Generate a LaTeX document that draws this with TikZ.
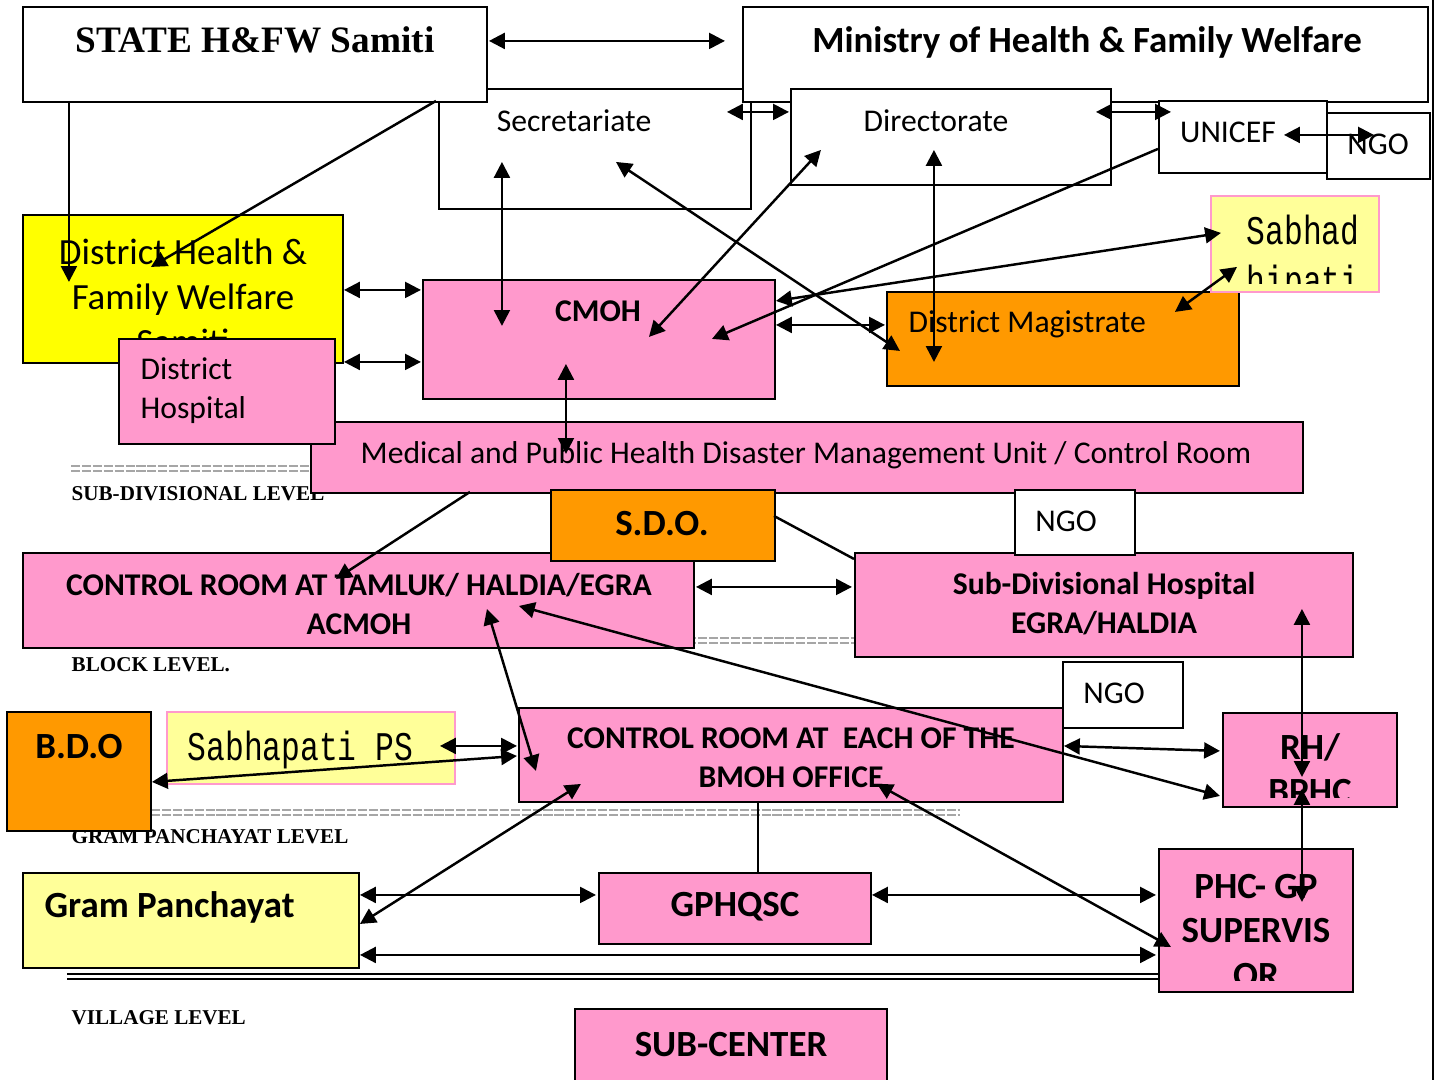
\documentclass[tikz,border=0pt]{standalone}
\usepackage{fontspec}
\setmainfont{Carlito}
\newfontfamily\timesfont{Liberation Serif}
\newfontfamily\simfont{Liberation Mono}
\usetikzlibrary{fit,arrows.meta}

\definecolor{dmpink}{HTML}{FF99CC}
\definecolor{dmyellow}{HTML}{FFFF00}
\definecolor{dmorange}{HTML}{FF9900}
\definecolor{dmcream}{HTML}{FFFF99}

\begin{document}
\begin{tikzpicture}[x=0.01cm, y=-0.01cm, >={Triangle[length=4.5pt,width=4.5pt]},
  box/.style={draw, line width=0.6pt, inner sep=0pt},
  wbox/.style={box, fill=white},
  pbox/.style={box, fill=dmpink},
  obox/.style={box, fill=dmorange},
  cbox/.style={box, fill=dmcream},
  txt/.style={inner sep=0pt, align=center, font=\fontsize{9}{11.1}\selectfont},
  btxt/.style={txt, font=\fontsize{9}{11.1}\selectfont\bfseries},
  bigtxt/.style={txt, font=\fontsize{10.5}{12.7}\selectfont\bfseries},
  simtxt/.style={inner sep=0pt, anchor=base west, font=\simfont\fontsize{8.9}{11}\selectfont},
  lvl/.style={inner sep=0pt, anchor=west, font=\timesfont\bfseries\fontsize{6}{7}\selectfont},
  sep/.style={gray!70, line width=0.4pt, dash pattern=on 2.6pt off 0.5pt},
  link/.style={line width=0.7pt}]

\useasboundingbox (0,0) rectangle (1437,1080);
\clip (0,0) rectangle (1437,1080);

% level separators and labels
\draw[sep] (71,466) -- (311,466) (71,471) -- (311,471);
\node[lvl] (lvlsub) at (71,494) {SUB-DIVISIONAL LEVEL};
\draw[sep] (600,638) -- (900,638) (600,643) -- (900,643);
\node[lvl] (lvlblock) at (71,665) {BLOCK LEVEL.};
\draw[sep] (151,810) -- (960,810) (151,815) -- (960,815);
\node[lvl] (lvlgp) at (71,837) {GRAM PANCHAYAT LEVEL};
\draw[line width=0.6pt] (67,974) -- (1159,974) (67,979) -- (1159,979);
\node[lvl] (lvlvil) at (71,1018) {VILLAGE LEVEL};

% state level
\node[wbox, fit={(439,89) (751,209)}] (secr) {};
\node[txt] (secrT) at (574,121) {Secretariate};
\node[wbox, fit={(23,7) (487,102)}] (state) {};
\node[inner sep=0pt, font=\timesfont\bfseries\fontsize{10.6}{12}\selectfont] (stateT) at (255,40) {STATE H\&FW Samiti};
\node[wbox, fit={(743,7) (1428,102)}] (ministry) {};
\node[bigtxt] (ministryT) at (1087,42) {Ministry of Health \& Family Welfare};
\node[wbox, fit={(791,89) (1111,185)}] (dir) {};
\node[txt] (dirT) at (936,121) {Directorate};
\node[wbox, fit={(1159,101) (1327,173)}] (unicef) {};
\node[txt] (unicefT) at (1228,132) {UNICEF};
\node[wbox, fit={(1327,113) (1430,179)}] (ngoA) {};
\node[txt] (ngoAT) at (1378,144) {NGO};

% district level
\node[box, fill=dmyellow, fit={(23,215) (343,363)}] (dhfw) {};
\node[txt, font=\fontsize{10.5}{12.8}\selectfont] (dhfwT) at (183,297) {District Health \&\\Family Welfare\\Samiti};
\node[pbox, fit={(311,422) (1303,493)}] (medu) {};
\node[txt] (meduT) at (806,455) {Medical and Public Health Disaster Management Unit / Control Room};
\node[pbox, fit={(119,339) (335,444)}] (dhosp) {};
\node[txt, align=left, anchor=west] (dhospT) at (140,391) {District\\Hospital};
\node[pbox, fit={(423,280) (775,399)}] (cmoh) {};
\node[btxt] (cmohT) at (598,311) {CMOH};
\node[obox, fit={(887,292) (1239,386)}] (dm) {};
\node[txt, anchor=west] (dmT) at (908,324) {District Magistrate};
\node[cbox, draw=dmpink, fit={(1211,196) (1379,292)}] (sabd) {};
\begin{scope}
\clip (1213,198) rectangle (1377,284);
\node[simtxt] (sabdT) at (1246,245) {\scalebox{1}[1.3]{Sabhad}};
\node[simtxt] (sabdT2) at (1246,295) {\scalebox{1}[1.3]{hipati}};
\end{scope}

% sub-divisional level
\node[pbox, fit={(23,553) (694,648)}] (crT) {};
\node[btxt] (crTT) at (359,604) {CONTROL ROOM AT TAMLUK/ HALDIA/EGRA\\ACMOH};
\node[obox, fit={(551,490) (775,561)}] (sdo) {};
\node[bigtxt] (sdoT) at (662,524) {S.D.O.};
\node[pbox, fit={(855,553) (1353,657)}] (sdh) {};
\node[btxt] (sdhT) at (1104,604) {Sub-Divisional Hospital\\EGRA/HALDIA};
\node[wbox, fit={(1015,490) (1135,555)}] (ngoB) {};
\node[txt] (ngoBT) at (1066,521) {NGO};

% block level
\node[obox, fit={(7,712) (151,831)}] (bdo) {};
\node[bigtxt] (bdoT) at (79,747) {B.D.O};
\node[cbox, draw=dmpink, fit={(167,712) (455,784)}] (sabp) {};
\node[simtxt] (sabpT) at (187,760) {\scalebox{1}[1.3]{Sabhapati PS}};
\node[pbox, fit={(519,708) (1063,802)}] (crB) {};
\node[btxt] (crBT) at (791,758) {CONTROL ROOM AT\ \ EACH OF THE\\BMOH OFFICE};
\node[wbox, fit={(1063,662) (1183,728)}] (ngoC) {};
\node[txt] (ngoCT) at (1114,693) {NGO};
\node[pbox, fit={(1223,713) (1397,807)}] (rh) {};
\begin{scope}
\clip (1225,715) rectangle (1395,797);
\node[bigtxt, font=\fontsize{10.5}{12.5}\selectfont\bfseries] (rhT) at (1310,769) {RH/\\BPHC};
\end{scope}

% gram panchayat level
\node[box, fill=dmcream, fit={(23,873) (359,968)}] (gp) {};
\node[bigtxt, anchor=west] (gpT) at (44,907) {Gram Panchayat};
\node[pbox, fit={(599,873) (871,944)}] (gphq) {};
\node[bigtxt] (gphqT) at (735,907) {GPHQSC};
\node[pbox, fit={(1159,849) (1353,992)}] (phc) {};
\begin{scope}
\clip (1161,851) rectangle (1351,980);
\node[bigtxt, font=\fontsize{10.5}{12.7}\selectfont\bfseries] (phcT) at (1256,931) {PHC- GP\\SUPERVIS\\OR};
\end{scope}

% village level
\node[pbox, fit={(575,1009) (887,1100)}] (subc) {};
\node[bigtxt] (subcT) at (731,1045) {SUB-CENTER};

% links: state and district
\draw[link,<->] ([shift={(467,35)}]state.north west) -- ([shift={(-17,35)}]ministry.north west);
\draw[link,<->] ([shift={(289,24)}]secr.north west) -- ([shift={(-1,24)}]dir.north west);
\draw[link,<->] ([shift={(306,24)}]dir.north west) -- ([shift={(13,12)}]unicef.north west);
\draw[link,<->] ([shift={(126,35)}]unicef.north west) -- ([shift={(48,23)}]ngoA.north west);
\draw[link,->] ([shift={(47,95)}]state.north west) -- ([shift={(47,68)}]dhfw.north west);
\draw[link,->] ([shift={(414,95)}]state.north west) -- ([shift={(129,53)}]dhfw.north west);
\draw[link,<->] ([shift={(64,74)}]secr.north west) -- ([shift={(80,47)}]cmoh.north west);
\draw[link,<->] ([shift={(178,74)}]secr.north west) -- ([shift={(14,60)}]dm.north west);
\draw[link,<->] ([shift={(31,62)}]dir.north west) -- ([shift={(227,58)}]cmoh.north west);
\draw[link,<->] ([shift={(144,62)}]dir.north west) -- ([shift={(48,71)}]dm.north west);
\draw[link,->] ([shift={(0,49)}]unicef.north west) -- ([shift={(290,60)}]cmoh.north west);
\draw[link,<->] ([shift={(354,22)}]cmoh.north west) -- ([shift={(11,38)}]sabd.north west);
\draw[link,<->] ([shift={(354,46)}]cmoh.north west) -- ([shift={(-1,34)}]dm.north west);
\draw[link,<->] ([shift={(289,21)}]dm.north west) -- ([shift={(27,72)}]sabd.north west);
\draw[link,<->] ([shift={(322,76)}]dhfw.north west) -- ([shift={(-1,11)}]cmoh.north west);
\draw[link,<->] ([shift={(322,148)}]dhfw.north west) -- ([shift={(-1,83)}]cmoh.north west);
\draw[link,<->] ([shift={(144,85)}]cmoh.north west) -- ([shift={(256,33)}]medu.north west);

% links: sub-division and block
\draw[link,->] ([shift={(160,71)}]medu.north west) -- ([shift={(314,27)}]crT.north west);
\draw[link] ([shift={(224,27)}]sdo.north west) -- ([shift={(0,7)}]sdh.north west);
\draw[link,<->] ([shift={(674,35)}]crT.north west) -- ([shift={(-2,35)}]sdh.north west);
\draw[link,<->] ([shift={(497,54)}]crT.north west) -- ([shift={(-2,84)}]rh.north west);
\draw[link,<->] ([shift={(465,57)}]crT.north west) -- ([shift={(18,64)}]crB.north west);
\draw[link,<->] ([shift={(448,57)}]sdh.north west) -- ([shift={(80,65)}]rh.north west);
\draw[link,<->] ([shift={(80,77)}]rh.north west) -- ([shift={(144,54)}]phc.north west);
\draw[link,<->] ([shift={(274,35)}]sabp.north west) -- ([shift={(-1,39)}]crB.north west);
\draw[link,<->] ([shift={(146,71)}]bdo.north west) -- ([shift={(-1,49)}]crB.north west);
\draw[link,<->] ([shift={(546,39)}]crB.north west) -- ([shift={(-2,39)}]rh.north west);
\draw[link,<->] ([shift={(359,77)}]crB.north west) -- ([shift={(13,99)}]phc.north west);
\draw[link] ([shift={(240,94)}]crB.north west) -- ([shift={(160,0)}]gphq.north west);
\draw[link,<->] ([shift={(63,77)}]crB.north west) -- ([shift={(338,52)}]gp.north west);

% links: gram panchayat
\draw[link,<->] ([shift={(338,23)}]gp.north west) -- ([shift={(-2,23)}]gphq.north west);
\draw[link,<->] ([shift={(274,23)}]gphq.north west) -- ([shift={(-2,47)}]phc.north west);
\draw[link,<->] ([shift={(338,83)}]gp.north west) -- ([shift={(-2,107)}]phc.north west);

% page edge
\draw[line width=0.6pt] (1433,0) -- (1433,1080);
\end{tikzpicture}
\end{document}
